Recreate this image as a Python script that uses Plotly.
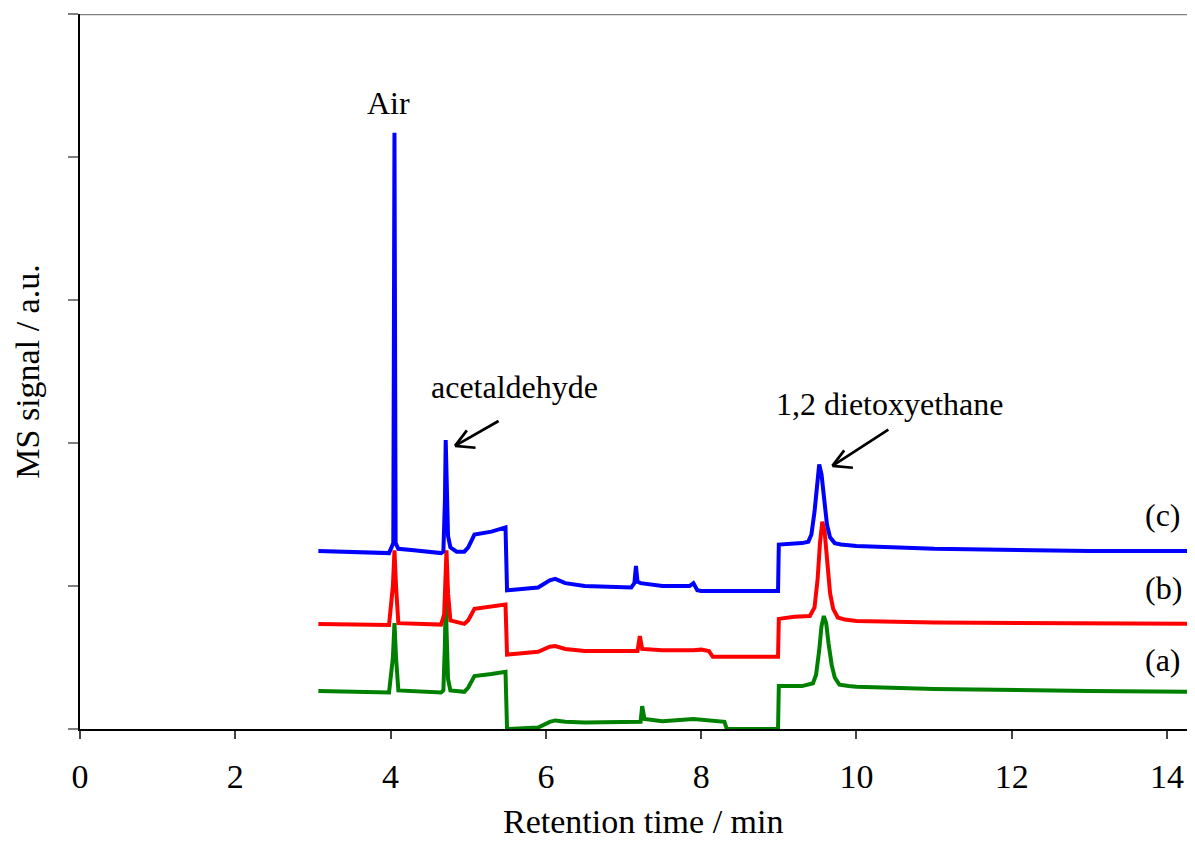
import plotly.graph_objects as go

# Retention time (min) and MS signal (a.u., offset traces)
t_a = [3.07, 3.98, 4.03, 4.05, 4.07, 4.1, 4.65, 4.68, 4.70, 4.71, 4.72, 4.74, 4.77, 4.95, 5.0, 5.08, 5.3, 5.48, 5.5,
       5.9, 6.05, 6.12, 6.25, 6.5, 7.22, 7.24, 7.27, 7.5, 7.9, 8.0, 8.3, 8.33, 8.99, 9.0, 9.3, 9.44, 9.48,
       9.52, 9.55, 9.58, 9.61, 9.64, 9.68, 9.72, 9.78, 9.9, 10.0, 11.0, 12.0, 13.0, 14.4]
s_a = [0.265, 0.255, 0.5, 0.74, 0.5, 0.27, 0.255, 0.27, 0.6, 0.92, 0.7, 0.35, 0.27, 0.26, 0.29, 0.37, 0.385, 0.40, 0.0,
       0.01, 0.05, 0.06, 0.05, 0.045, 0.05, 0.16, 0.07, 0.055, 0.07, 0.065, 0.05, 0.0, 0.0, 0.30, 0.30, 0.32, 0.38,
       0.55, 0.72, 0.79, 0.74, 0.6, 0.45, 0.36, 0.31, 0.30, 0.295, 0.28, 0.27, 0.265, 0.26]

t_b = [3.07, 3.98, 4.03, 4.05, 4.07, 4.1, 4.65, 4.69, 4.71, 4.72, 4.74, 4.77, 4.95, 5.0, 5.08, 5.3, 5.48, 5.5,
       5.9, 6.05, 6.12, 6.25, 6.5, 7.18, 7.21, 7.24, 7.5, 7.9, 8.0, 8.1, 8.15, 8.99, 9.0, 9.2, 9.4, 9.46,
       9.5, 9.53, 9.56, 9.59, 9.62, 9.66, 9.7, 9.76, 9.85, 10.0, 11.0, 12.0, 13.0, 14.4]
s_b = [0.735, 0.728, 1.0, 1.25, 1.0, 0.74, 0.73, 0.8, 1.1, 1.25, 0.95, 0.76, 0.735, 0.76, 0.84, 0.855, 0.87, 0.52,
       0.54, 0.575, 0.58, 0.56, 0.545, 0.545, 0.65, 0.56, 0.55, 0.55, 0.555, 0.545, 0.505, 0.505, 0.77, 0.785, 0.79, 0.85,
       1.05, 1.3, 1.45, 1.38, 1.18, 0.95, 0.84, 0.78, 0.765, 0.755, 0.745, 0.74, 0.735, 0.735]

t_c = [3.07, 3.5, 3.98, 4.035, 4.05, 4.065, 4.1, 4.3, 4.65, 4.68, 4.70, 4.71, 4.72, 4.74, 4.77, 4.85, 4.95, 5.0, 5.08, 5.3,
       5.48, 5.5, 5.9, 6.05, 6.12, 6.25, 6.5, 7.1, 7.14, 7.16, 7.18, 7.22, 7.5, 7.85, 7.9, 7.95, 8.0, 8.99, 9.0,
       9.3, 9.38, 9.42, 9.46, 9.49, 9.52, 9.55, 9.58, 9.62, 9.66, 9.72, 9.8, 10.0, 11.0, 12.0, 13.0, 14.4]
s_c = [1.245, 1.235, 1.23, 1.3, 4.17, 1.3, 1.26, 1.25, 1.23, 1.24, 1.6, 2.02, 1.7, 1.35, 1.27, 1.24, 1.24, 1.27, 1.36, 1.38,
       1.41, 0.97, 0.99, 1.04, 1.05, 1.02, 1.0, 0.99, 1.02, 1.14, 1.03, 1.02, 1.0, 1.0, 1.02, 0.97, 0.965, 0.965, 1.29,
       1.3, 1.31, 1.36, 1.52, 1.72, 1.85, 1.78, 1.6, 1.43, 1.34, 1.30, 1.29, 1.28, 1.26, 1.25, 1.245, 1.245]

x_ticks = [0, 2, 4, 6, 8, 10, 12, 14]
y_ticks = [0, 1, 2, 3, 4, 5]

FONT = "Liberation Serif"

fig = go.Figure()
for t, s, c in [(t_a, s_a, "#008000"), (t_b, s_b, "#FF0000"), (t_c, s_c, "#0000FF")]:
    fig.add_trace(go.Scatter(x=t, y=s, mode="lines", line=dict(color=c, width=4), showlegend=False))

ann = []
ann.append(dict(x=3.97, y=4.38, text="Air", showarrow=False, xref="x", yref="y"))
ann.append(dict(x=5.60, y=2.39, text="acetaldehyde", showarrow=False, xref="x", yref="y"))
ann.append(dict(x=10.42, y=2.27, text="1,2 dietoxyethane", showarrow=False, xref="x", yref="y"))
ann.append(dict(x=13.95, y=1.50, text="(c)", showarrow=False, xref="x", yref="y"))
ann.append(dict(x=13.95, y=0.986, text="(b)", showarrow=False, xref="x", yref="y"))
ann.append(dict(x=13.95, y=0.48, text="(a)", showarrow=False, xref="x", yref="y"))
# arrows (shaft + open V head)
for hx, hy, tx, ty in [(4.83, 1.98, 5.41, 2.16), (9.69, 1.84, 10.43, 2.10)]:
    ann.append(dict(x=hx, y=hy, ax=tx, ay=ty, axref="x", ayref="y", xref="x", yref="y", text="",
                    showarrow=True, arrowhead=0, arrowwidth=2.7, arrowcolor="black"))
    for wx, wy in [(13, -17), (22, 2)]:
        ann.append(dict(x=hx, y=hy, ax=wx, ay=wy, xref="x", yref="y", text="",
                        showarrow=True, arrowhead=0, arrowwidth=2.7, arrowcolor="black"))
ann.append(dict(x=0.505, y=-0.13, xref="paper", yref="paper", text="Retention time / min",
                showarrow=False, yanchor="middle", font=dict(family=FONT, size=34, color="black")))
for a in ann:
    a.setdefault("font", dict(family=FONT, size=32, color="black"))

fig.update_layout(
    width=1187, height=833,
    margin=dict(l=72, r=0, t=6, b=112),
    plot_bgcolor="white", paper_bgcolor="white",
    font=dict(family=FONT, size=34, color="black"),
    annotations=ann,
    shapes=[dict(type="line", xref="paper", yref="y", x0=0, x1=1, y0=5, y1=5,
                 line=dict(color="#808080", width=2.5))],
    xaxis=dict(range=[0, 14.36], tickvals=x_ticks, ticks="outside", ticklen=8, tickwidth=1.5,
               tickcolor="#444", showline=True, linecolor="black", linewidth=1.5, showgrid=False,
               zeroline=False, tickfont=dict(family=FONT, size=34), automargin=False,
               ticklabelstandoff=8),
    yaxis=dict(range=[0, 5], tickvals=y_ticks, ticks="outside", ticklen=10, tickwidth=2,
               tickcolor="#808080", showline=True, linecolor="black", linewidth=1.5, showgrid=False,
               zeroline=False, showticklabels=False, automargin=False,
               title=dict(text="MS signal / a.u.", font=dict(family=FONT, size=34), standoff=18)),
)

fig.write_html("out.html")
